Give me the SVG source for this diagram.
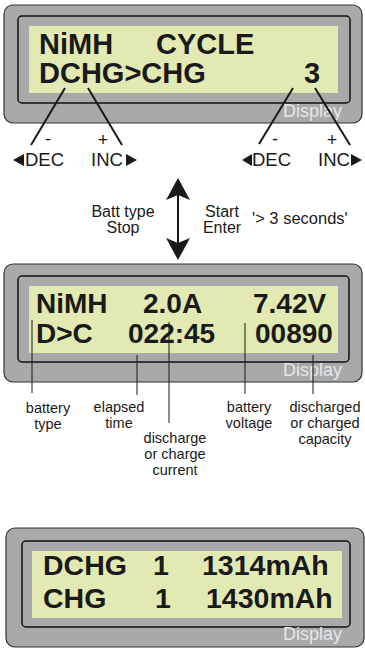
<svg xmlns="http://www.w3.org/2000/svg" width="365" height="649" viewBox="0 0 365 649">
<style>
.outer{fill:#a9a9a9;stroke:#333;stroke-width:1.2}
.inner{fill:#a9a9a9;stroke:#111;stroke-width:1.5}
.lcd{fill:#e2e9b2}
.lcdt{font-family:"Liberation Sans",Arial,sans-serif;font-weight:bold;fill:#1a1a1a}
.disp{font-family:"Liberation Sans",Arial,sans-serif;font-size:18px;fill:#e6e6e6}
.lbl{font-family:"Liberation Sans",Arial,sans-serif;fill:#1a1a1a}
.ptr{stroke:#1a1a1a;stroke-width:2;fill:none}
.thin{stroke:#1a1a1a;stroke-width:1;fill:none}
</style>
<rect width="365" height="649" fill="#fff"/>
<g id="display1">
<rect class="outer" x="4" y="5" width="358" height="118" rx="9"/>
<rect class="inner" x="18" y="16" width="332" height="87" rx="4"/>
<rect class="lcd" x="29" y="26" width="309" height="67"/>
<text class="lcdt" font-size="29" x="39" y="54">NiMH</text>
<text class="lcdt" font-size="29" x="156" y="54">CYCLE</text>
<text class="lcdt" font-size="29" x="39" y="83">DCHG&gt;CHG</text>
<text class="lcdt" font-size="29" x="304" y="83">3</text>
<text class="disp" x="283" y="117">Display</text>
</g>
<g id="display2">
<rect class="outer" x="4" y="264" width="358" height="118" rx="9"/>
<rect class="inner" x="18" y="276" width="331" height="86" rx="4"/>
<rect class="lcd" x="29" y="286" width="309" height="67"/>
<text class="lcdt" font-size="28" x="36" y="313">NiMH</text>
<text class="lcdt" font-size="28" x="143" y="313">2.0A</text>
<text class="lcdt" font-size="28" x="253" y="313">7.42V</text>
<text class="lcdt" font-size="28" x="36" y="343">D&gt;C</text>
<text class="lcdt" font-size="28" x="128" y="343">022:45</text>
<text class="lcdt" font-size="28" x="255" y="343">00890</text>
<text class="disp" x="283" y="376">Display</text>
</g>
<g id="display3">
<rect class="outer" x="6" y="528" width="358" height="119" rx="9"/>
<rect class="inner" x="22" y="541" width="328" height="86" rx="4"/>
<rect class="lcd" x="32" y="551" width="310" height="67"/>
<text class="lcdt" font-size="28.5" x="43" y="575">DCHG</text>
<text class="lcdt" font-size="28.5" x="153" y="575">1</text>
<text class="lcdt" font-size="28.5" x="202" y="575">1314mAh</text>
<text class="lcdt" font-size="28.5" x="43" y="608">CHG</text>
<text class="lcdt" font-size="28.5" x="155" y="608">1</text>
<text class="lcdt" font-size="28.5" x="206" y="608">1430mAh</text>
<text class="disp" x="283" y="640">Display</text>
</g>
<g id="connectors">
<line class="ptr" x1="65" y1="88" x2="31" y2="145"/>
<line class="ptr" x1="88" y1="88" x2="122" y2="145"/>
<line class="ptr" x1="293" y1="88" x2="259" y2="144"/>
<line class="ptr" x1="315" y1="88" x2="350" y2="145"/>
<line class="ptr" x1="178" y1="195" x2="178" y2="243"/>
<polygon points="178,178 190,200 178,195 166,200" fill="#1a1a1a"/>
<polygon points="178,260 190,238 178,243 166,238" fill="#1a1a1a"/>
<line class="thin" x1="32" y1="320" x2="32" y2="393"/>
<line class="thin" x1="137" y1="355" x2="137" y2="395"/>
<line class="thin" x1="169" y1="322" x2="169" y2="423"/>
<line class="thin" x1="245" y1="323" x2="245" y2="394"/>
<line class="thin" x1="313" y1="355" x2="313" y2="394"/>
</g>
<g id="controls">
<text class="lbl" font-size="18" x="48" y="145" text-anchor="middle">-</text>
<text class="lbl" font-size="18" x="103" y="146" text-anchor="middle">+</text>
<polygon points="13,160 24,154 24,166" fill="#1a1a1a"/>
<text class="lbl" font-size="18.5" x="25" y="166">DEC</text>
<text class="lbl" font-size="18.5" x="91" y="166">INC</text>
<polygon points="137,160 126,154 126,166" fill="#1a1a1a"/>
<text class="lbl" font-size="18" x="275" y="145" text-anchor="middle">-</text>
<text class="lbl" font-size="18" x="332" y="146" text-anchor="middle">+</text>
<polygon points="242,160 252,154 252,166" fill="#1a1a1a"/>
<text class="lbl" font-size="18.5" x="252" y="166">DEC</text>
<text class="lbl" font-size="18.5" x="318" y="166">INC</text>
<polygon points="362,160 351,154 351,166" fill="#1a1a1a"/>
</g>
<g id="transition-labels">
<text class="lbl" font-size="16" x="123" y="217" text-anchor="middle">Batt type</text>
<text class="lbl" font-size="16" x="123" y="233" text-anchor="middle">Stop</text>
<text class="lbl" font-size="16" x="222" y="217" text-anchor="middle">Start</text>
<text class="lbl" font-size="16" x="222" y="233" text-anchor="middle">Enter</text>
<text class="lbl" font-size="16.5" x="252" y="224">'&gt; 3 seconds'</text>
</g>
<g id="field-labels">
<text class="lbl" font-size="14.5" x="48" y="413" text-anchor="middle">battery</text>
<text class="lbl" font-size="14.5" x="48" y="429" text-anchor="middle">type</text>
<text class="lbl" font-size="14.5" x="119" y="412" text-anchor="middle">elapsed</text>
<text class="lbl" font-size="14.5" x="119" y="428" text-anchor="middle">time</text>
<text class="lbl" font-size="14.5" x="175" y="443" text-anchor="middle">discharge</text>
<text class="lbl" font-size="14.5" x="175" y="459" text-anchor="middle">or charge</text>
<text class="lbl" font-size="14.5" x="175" y="475" text-anchor="middle">current</text>
<text class="lbl" font-size="14.5" x="249" y="412" text-anchor="middle">battery</text>
<text class="lbl" font-size="14.5" x="249" y="428" text-anchor="middle">voltage</text>
<text class="lbl" font-size="14.5" x="325" y="412" text-anchor="middle">discharged</text>
<text class="lbl" font-size="14.5" x="325" y="428" text-anchor="middle">or charged</text>
<text class="lbl" font-size="14.5" x="325" y="444" text-anchor="middle">capacity</text>
</g>
</svg>
